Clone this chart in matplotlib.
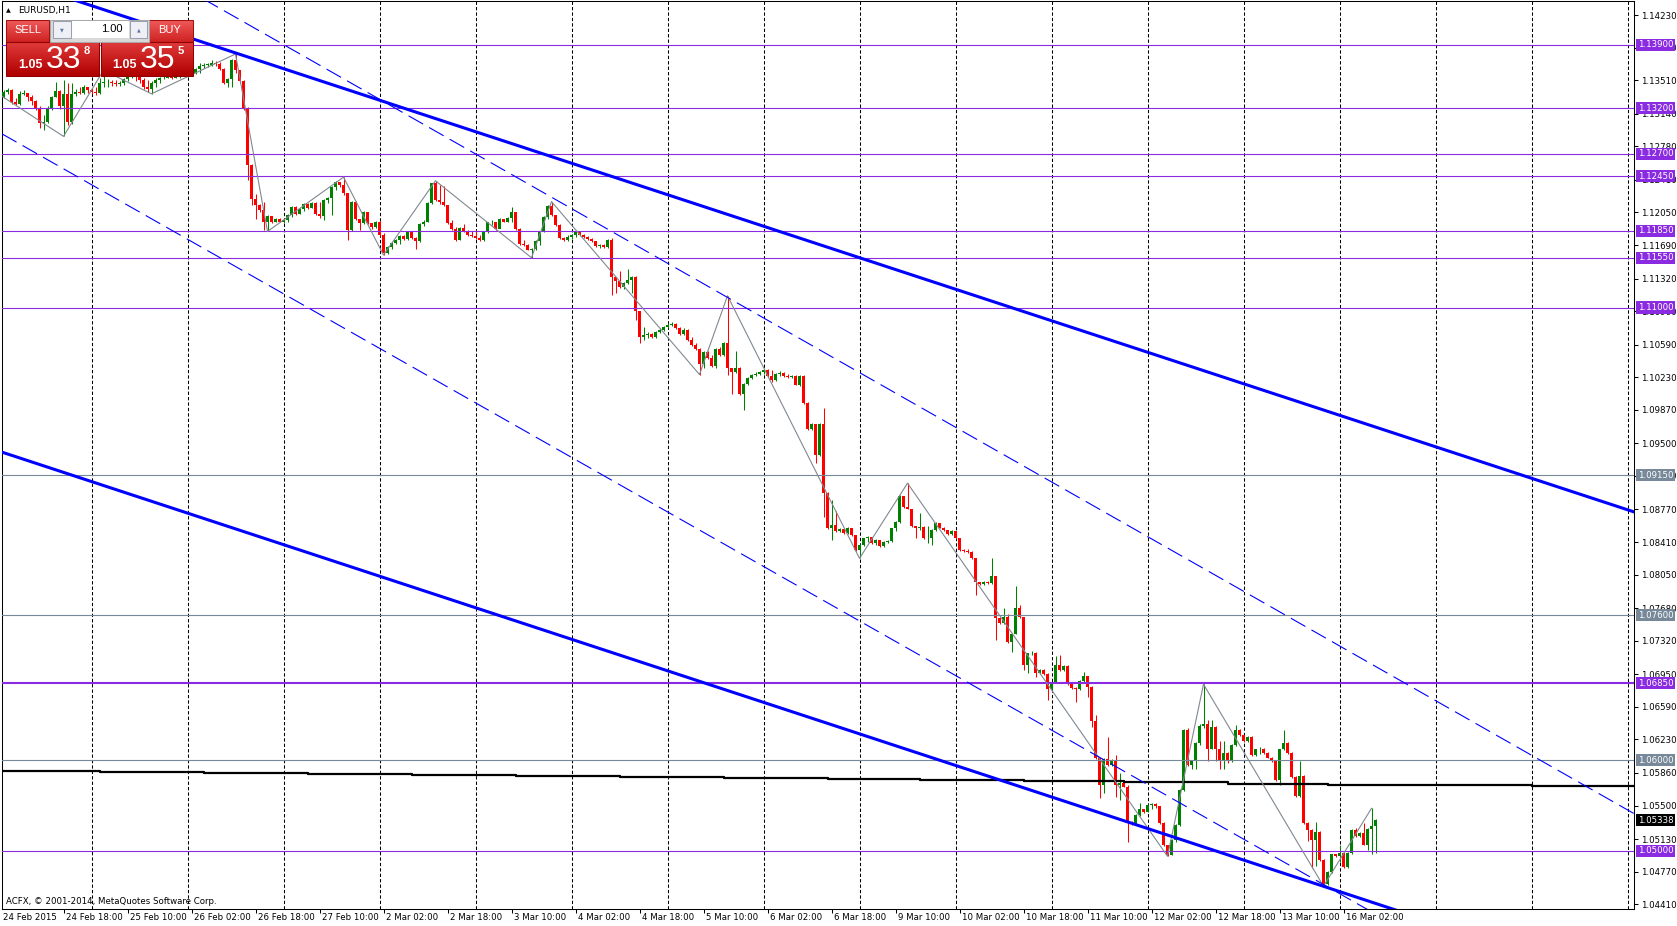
import numpy as np
import matplotlib
matplotlib.use("Agg")
import matplotlib.pyplot as plt
from matplotlib.patches import Rectangle
from matplotlib.colors import LinearSegmentedColormap

plt.rcParams['font.family'] = ['DejaVu Sans']
plt.rcParams['lines.scale_dashes'] = False

# EURUSD H1, bar 1 = 24 Feb 2015 01:00 (bar 24 = 25 Feb 00:00)
first_open = 1.1333
closes = [
    1.1332, 1.1338, 1.1340, 1.1327, 1.1325, 1.1336, 1.1337, 1.1332, 1.1328, 1.1320,
    1.1304, 1.1305, 1.1320, 1.1333, 1.1339, 1.1322, 1.1336, 1.1305, 1.1336, 1.1338,
    1.1337, 1.1343, 1.1340, 1.1338, 1.1337, 1.1348, 1.1349, 1.1349, 1.1348, 1.1347,
    1.1348, 1.1352, 1.1355, 1.1357, 1.1355, 1.1351, 1.1344, 1.1341, 1.1348, 1.1351,
    1.1353, 1.1354, 1.1355, 1.1354, 1.1356, 1.1357, 1.1358, 1.1359, 1.1359, 1.1363,
    1.1367, 1.1368, 1.1368, 1.1370, 1.1369, 1.1363, 1.1348, 1.1352, 1.1373, 1.1362,
    1.1350, 1.1320, 1.1257, 1.1220, 1.1213, 1.1208, 1.1194, 1.1201, 1.1195, 1.1198,
    1.1195, 1.1197, 1.1202, 1.1211, 1.1203, 1.1209, 1.1214, 1.1210, 1.1215, 1.1203,
    1.1201, 1.1219, 1.1221, 1.1233, 1.1239, 1.1235, 1.1226, 1.1186, 1.1217, 1.1198,
    1.1193, 1.1206, 1.1193, 1.1189, 1.1195, 1.1180, 1.1160, 1.1167, 1.1171, 1.1175,
    1.1179, 1.1176, 1.1183, 1.1177, 1.1173, 1.1192, 1.1195, 1.1215, 1.1237, 1.1219,
    1.1216, 1.1213, 1.1193, 1.1187, 1.1175, 1.1188, 1.1184, 1.1180, 1.1179, 1.1177,
    1.1175, 1.1184, 1.1194, 1.1195, 1.1187, 1.1198, 1.1195, 1.1199, 1.1206, 1.1187,
    1.1170, 1.1169, 1.1164, 1.1165, 1.1174, 1.1184, 1.1200, 1.1212, 1.1202, 1.1191,
    1.1177, 1.1175, 1.1178, 1.1180, 1.1183, 1.1180, 1.1178, 1.1176, 1.1173, 1.1168,
    1.1169, 1.1167, 1.1175, 1.1134, 1.1129, 1.1123, 1.1127, 1.1130, 1.1134, 1.1096,
    1.1068, 1.1070, 1.1071, 1.1067, 1.1073, 1.1075, 1.1079, 1.1081, 1.1082, 1.1077,
    1.1071, 1.1075, 1.1064, 1.1059, 1.1054, 1.1038, 1.1051, 1.1044, 1.1035, 1.1054,
    1.1048, 1.1061, 1.1033, 1.1029, 1.1033, 1.1004, 1.1016, 1.1022, 1.1026, 1.1027,
    1.1029, 1.1031, 1.1024, 1.1020, 1.1027, 1.1028, 1.1024, 1.1023, 1.1024, 1.1015,
    1.1024, 1.0995, 1.0966, 1.0971, 1.0937, 1.0971, 1.0895, 1.0856, 1.0860, 1.0853,
    1.0855, 1.0851, 1.0856, 1.0849, 1.0832, 1.0838, 1.0845, 1.0847, 1.0840, 1.0843,
    1.0837, 1.0841, 1.0842, 1.0856, 1.0863, 1.0892, 1.0880, 1.0878, 1.0859, 1.0856,
    1.0858, 1.0845, 1.0846, 1.0854, 1.0862, 1.0857, 1.0854, 1.0850, 1.0853, 1.0845,
    1.0832, 1.0831, 1.0830, 1.0823, 1.0797, 1.0795, 1.0797, 1.0796, 1.0803, 1.0757,
    1.0752, 1.0758, 1.0731, 1.0740, 1.0768, 1.0758, 1.0705, 1.0718, 1.0719, 1.0696,
    1.0700, 1.0695, 1.0679, 1.0686, 1.0705, 1.0700, 1.0704, 1.0684, 1.0680, 1.0679,
    1.0688, 1.0693, 1.0681, 1.0643, 1.0602, 1.0573, 1.0601, 1.0595, 1.0600, 1.0573,
    1.0575, 1.0571, 1.0531, 1.0530, 1.0540, 1.0546, 1.0543, 1.0551, 1.0552, 1.0549,
    1.0531, 1.0506, 1.0495, 1.0512, 1.0529, 1.0567, 1.0634, 1.0595, 1.0599, 1.0619,
    1.0638, 1.0640, 1.0612, 1.0637, 1.0612, 1.0599, 1.0608, 1.0599, 1.0617, 1.0634,
    1.0628, 1.0621, 1.0626, 1.0606, 1.0612, 1.0613, 1.0608, 1.0603, 1.0599, 1.0578,
    1.0612, 1.0619, 1.0608, 1.0582, 1.0561, 1.0583, 1.0531, 1.0523, 1.0512, 1.0521,
    1.0490, 1.0463, 1.0477, 1.0496, 1.0494, 1.0498, 1.0482, 1.0498, 1.0523, 1.0516,
    1.0520, 1.0507, 1.0524, 1.0527, 1.0534,
]
highs = [
    1.1335, 1.1340, 1.1342, 1.1341, 1.1331, 1.1339, 1.1340, 1.1336, 1.1335, 1.1329,
    1.1322, 1.1313, 1.1322, 1.1334, 1.1349, 1.1340, 1.1351, 1.1348, 1.1348, 1.1341,
    1.1344, 1.1346, 1.1344, 1.1342, 1.1344, 1.1353, 1.1362, 1.1352, 1.1351, 1.1351,
    1.1350, 1.1354, 1.1357, 1.1359, 1.1359, 1.1356, 1.1354, 1.1351, 1.1350, 1.1353,
    1.1355, 1.1357, 1.1357, 1.1357, 1.1359, 1.1359, 1.1360, 1.1362, 1.1362, 1.1365,
    1.1370, 1.1370, 1.1370, 1.1373, 1.1372, 1.1371, 1.1364, 1.1354, 1.1375, 1.1380,
    1.1362, 1.1351, 1.1321, 1.1259, 1.1225, 1.1214, 1.1217, 1.1202, 1.1201, 1.1199,
    1.1199, 1.1198, 1.1203, 1.1212, 1.1212, 1.1210, 1.1215, 1.1215, 1.1216, 1.1216,
    1.1217, 1.1220, 1.1222, 1.1234, 1.1240, 1.1239, 1.1244, 1.1226, 1.1218, 1.1218,
    1.1198, 1.1207, 1.1206, 1.1193, 1.1196, 1.1196, 1.1182, 1.1168, 1.1172, 1.1176,
    1.1180, 1.1180, 1.1184, 1.1183, 1.1178, 1.1193, 1.1197, 1.1216, 1.1238, 1.1240,
    1.1235, 1.1234, 1.1213, 1.1197, 1.1189, 1.1189, 1.1192, 1.1186, 1.1184, 1.1186,
    1.1180, 1.1185, 1.1195, 1.1197, 1.1195, 1.1199, 1.1198, 1.1200, 1.1211, 1.1206,
    1.1188, 1.1175, 1.1170, 1.1166, 1.1175, 1.1185, 1.1201, 1.1213, 1.1217, 1.1202,
    1.1192, 1.1178, 1.1180, 1.1181, 1.1185, 1.1184, 1.1181, 1.1179, 1.1177, 1.1173,
    1.1170, 1.1170, 1.1176, 1.1177, 1.1134, 1.1140, 1.1128, 1.1143, 1.1135, 1.1135,
    1.1096, 1.1079, 1.1073, 1.1072, 1.1074, 1.1077, 1.1080, 1.1083, 1.1084, 1.1083,
    1.1079, 1.1077, 1.1076, 1.1068, 1.1061, 1.1055, 1.1052, 1.1052, 1.1048, 1.1055,
    1.1056, 1.1062, 1.1113, 1.1033, 1.1052, 1.1034, 1.1017, 1.1023, 1.1027, 1.1029,
    1.1030, 1.1032, 1.1032, 1.1031, 1.1028, 1.1030, 1.1029, 1.1027, 1.1026, 1.1025,
    1.1025, 1.1025, 1.0996, 1.0972, 1.0971, 1.0972, 1.0989, 1.0896, 1.0888, 1.0875,
    1.0857, 1.0855, 1.0858, 1.0856, 1.0849, 1.0839, 1.0846, 1.0848, 1.0846, 1.0844,
    1.0843, 1.0842, 1.0843, 1.0857, 1.0864, 1.0893, 1.0892, 1.0906, 1.0878, 1.0859,
    1.0873, 1.0859, 1.0859, 1.0855, 1.0863, 1.0862, 1.0858, 1.0854, 1.0854, 1.0853,
    1.0846, 1.0833, 1.0833, 1.0831, 1.0823, 1.0797, 1.0798, 1.0798, 1.0823, 1.0804,
    1.0758, 1.0768, 1.0762, 1.0741, 1.0793, 1.0772, 1.0758, 1.0719, 1.0721, 1.0720,
    1.0701, 1.0701, 1.0696, 1.0687, 1.0715, 1.0716, 1.0705, 1.0705, 1.0685, 1.0681,
    1.0689, 1.0697, 1.0693, 1.0682, 1.0650, 1.0602, 1.0602, 1.0626, 1.0601, 1.0606,
    1.0586, 1.0576, 1.0573, 1.0533, 1.0541, 1.0553, 1.0546, 1.0552, 1.0553, 1.0553,
    1.0550, 1.0532, 1.0507, 1.0513, 1.0530, 1.0568, 1.0635, 1.0636, 1.0600, 1.0620,
    1.0640, 1.0684, 1.0645, 1.0645, 1.0638, 1.0621, 1.0621, 1.0609, 1.0618, 1.0639,
    1.0635, 1.0628, 1.0627, 1.0627, 1.0613, 1.0615, 1.0614, 1.0609, 1.0604, 1.0600,
    1.0613, 1.0634, 1.0620, 1.0609, 1.0583, 1.0599, 1.0584, 1.0532, 1.0524, 1.0532,
    1.0522, 1.0491, 1.0478, 1.0497, 1.0497, 1.0507, 1.0499, 1.0499, 1.0524, 1.0525,
    1.0521, 1.0531, 1.0525, 1.0547, 1.0535,
]
lows = [
    1.1330, 1.1331, 1.1336, 1.1325, 1.1324, 1.1324, 1.1335, 1.1328, 1.1324, 1.1318,
    1.1298, 1.1296, 1.1304, 1.1318, 1.1332, 1.1319, 1.1289, 1.1302, 1.1303, 1.1334,
    1.1336, 1.1336, 1.1337, 1.1336, 1.1335, 1.1336, 1.1344, 1.1343, 1.1345, 1.1345,
    1.1345, 1.1346, 1.1350, 1.1353, 1.1350, 1.1348, 1.1341, 1.1338, 1.1336, 1.1343,
    1.1348, 1.1352, 1.1353, 1.1352, 1.1353, 1.1354, 1.1356, 1.1356, 1.1356, 1.1358,
    1.1359, 1.1365, 1.1366, 1.1367, 1.1367, 1.1362, 1.1347, 1.1343, 1.1344, 1.1359,
    1.1348, 1.1318, 1.1241, 1.1213, 1.1198, 1.1206, 1.1186, 1.1184, 1.1193, 1.1194,
    1.1194, 1.1193, 1.1195, 1.1200, 1.1202, 1.1203, 1.1207, 1.1209, 1.1210, 1.1202,
    1.1199, 1.1197, 1.1215, 1.1202, 1.1230, 1.1233, 1.1224, 1.1175, 1.1185, 1.1197,
    1.1186, 1.1192, 1.1192, 1.1187, 1.1188, 1.1179, 1.1158, 1.1159, 1.1165, 1.1170,
    1.1170, 1.1175, 1.1175, 1.1176, 1.1165, 1.1172, 1.1190, 1.1195, 1.1214, 1.1218,
    1.1214, 1.1212, 1.1192, 1.1186, 1.1174, 1.1175, 1.1183, 1.1179, 1.1178, 1.1176,
    1.1174, 1.1174, 1.1182, 1.1191, 1.1186, 1.1188, 1.1194, 1.1194, 1.1195, 1.1186,
    1.1169, 1.1168, 1.1163, 1.1155, 1.1163, 1.1169, 1.1183, 1.1198, 1.1201, 1.1190,
    1.1176, 1.1174, 1.1174, 1.1176, 1.1178, 1.1179, 1.1177, 1.1175, 1.1172, 1.1167,
    1.1166, 1.1166, 1.1166, 1.1114, 1.1116, 1.1122, 1.1121, 1.1126, 1.1116, 1.1086,
    1.1061, 1.1064, 1.1066, 1.1066, 1.1066, 1.1072, 1.1074, 1.1077, 1.1080, 1.1076,
    1.1070, 1.1070, 1.1063, 1.1058, 1.1053, 1.1026, 1.1033, 1.1043, 1.1034, 1.1033,
    1.1047, 1.1047, 1.1026, 1.1005, 1.1028, 1.1003, 1.0987, 1.1015, 1.1021, 1.1024,
    1.1026, 1.1027, 1.1023, 1.1018, 1.1019, 1.1024, 1.1023, 1.1022, 1.1022, 1.1014,
    1.1013, 1.0994, 1.0965, 1.0965, 1.0928, 1.0936, 1.0869, 1.0855, 1.0843, 1.0852,
    1.0852, 1.0850, 1.0850, 1.0848, 1.0831, 1.0823, 1.0837, 1.0841, 1.0839, 1.0838,
    1.0836, 1.0836, 1.0840, 1.0841, 1.0853, 1.0862, 1.0879, 1.0877, 1.0858, 1.0845,
    1.0854, 1.0844, 1.0840, 1.0838, 1.0853, 1.0856, 1.0853, 1.0849, 1.0849, 1.0844,
    1.0831, 1.0830, 1.0829, 1.0822, 1.0783, 1.0794, 1.0794, 1.0795, 1.0795, 1.0733,
    1.0751, 1.0751, 1.0730, 1.0720, 1.0739, 1.0757, 1.0700, 1.0696, 1.0716, 1.0692,
    1.0695, 1.0694, 1.0667, 1.0678, 1.0685, 1.0699, 1.0699, 1.0683, 1.0679, 1.0664,
    1.0678, 1.0687, 1.0670, 1.0637, 1.0601, 1.0558, 1.0564, 1.0594, 1.0594, 1.0560,
    1.0556, 1.0570, 1.0510, 1.0529, 1.0529, 1.0539, 1.0542, 1.0543, 1.0546, 1.0547,
    1.0530, 1.0505, 1.0494, 1.0495, 1.0510, 1.0528, 1.0566, 1.0594, 1.0590, 1.0590,
    1.0617, 1.0636, 1.0599, 1.0612, 1.0599, 1.0590, 1.0590, 1.0597, 1.0598, 1.0616,
    1.0627, 1.0620, 1.0620, 1.0605, 1.0605, 1.0607, 1.0607, 1.0602, 1.0598, 1.0577,
    1.0573, 1.0611, 1.0607, 1.0581, 1.0560, 1.0560, 1.0530, 1.0511, 1.0481, 1.0483,
    1.0489, 1.0461, 1.0462, 1.0476, 1.0493, 1.0488, 1.0481, 1.0481, 1.0497, 1.0515,
    1.0515, 1.0506, 1.0501, 1.0497, 1.0498,
]

# zigzag turning points
zz_bars = [1, 17, 27, 39, 60, 68, 87, 97, 110, 134, 139, 176, 183, 216, 228, 293, 302, 332, 344]
zz_prices = [1.1335, 1.1289, 1.1362, 1.1336, 1.1380, 1.1184, 1.1244, 1.1158, 1.1240, 1.1155,
             1.1217, 1.1026, 1.1113, 1.0823, 1.0906, 1.0494, 1.0684, 1.0461, 1.0547]

# channel lines, two anchors each (bar, price)
thick_lines = [((22.25, 1.14359), (409.5, 1.08745)), ((1.0, 1.09412), (334.25, 1.04576))]
dash_lines = [((53.9, 1.14359), (409.25, 1.05421)), ((1.1, 1.12931), (334.4, 1.04568))]

purple_levels = [1.13900, 1.13200, 1.12700, 1.12450, 1.11850, 1.11550, 1.11000, 1.06850, 1.05000]
gray_levels = [1.09150, 1.07600, 1.06000]
bid = 1.05338

# slow moving average (stepped)
ma_bars = [1, 26, 52, 78, 104, 130, 156, 182, 208, 231, 257, 282, 308, 333, 358, 384, 410]
ma_vals = [1.0588, 1.0587, 1.0586, 1.0585, 1.0584, 1.0583, 1.0582, 1.0580, 1.0579, 1.0578,
           1.0577, 1.0576, 1.0574, 1.0573, 1.0573, 1.0572, 1.0572]

ytick_vals = [1.14230, 1.13870, 1.13510, 1.13140, 1.12780, 1.12410, 1.12050, 1.11690, 1.11320,
              1.10960, 1.10590, 1.10230, 1.09870, 1.09500, 1.09140, 1.08770, 1.08410, 1.08050,
              1.07680, 1.07320, 1.06950, 1.06590, 1.06230, 1.05860, 1.05500, 1.05130, 1.04770,
              1.04410]
time_bars = [18, 34, 50, 66, 82, 98, 114, 130, 146, 162, 178, 194, 210, 226, 242, 258, 274,
             290, 306, 322, 338]
time_labels = ['24 Feb 18:00', '25 Feb 10:00', '26 Feb 02:00', '26 Feb 18:00', '27 Feb 10:00',
               '2 Mar 02:00', '2 Mar 18:00', '3 Mar 10:00', '4 Mar 02:00', '4 Mar 18:00',
               '5 Mar 10:00', '6 Mar 02:00', '6 Mar 18:00', '9 Mar 10:00', '10 Mar 02:00',
               '10 Mar 18:00', '11 Mar 10:00', '12 Mar 02:00', '12 Mar 18:00', '13 Mar 10:00',
               '16 Mar 02:00']

W, H = 1677, 926
fig = plt.figure(figsize=(W / 100, H / 100), dpi=100)
fig.patch.set_facecolor('white')
ax = fig.add_axes([2 / W, 17 / H, 1632 / W, 908 / H])
ax.set_xlim(1.625, 409.625)
ax.set_ylim(1.04358, 1.14385)
x0, x1 = ax.get_xlim()

# vertical grid, one per day
for b in range(24, 410, 24):
    ax.axvline(b, color='black', lw=0.75, dashes=(2.4, 1.5), zorder=1)

# candles
bars = np.arange(1, len(closes) + 1)
c = np.array(closes)
o = np.r_[first_open, c[:-1]]
col = np.where(c >= o, '#008000', '#ff0000')
ax.vlines(bars, lows, highs, colors=col, lw=0.75, zorder=3)
ax.bar(bars, np.maximum(np.abs(c - o), 0.00004), bottom=np.minimum(o, c), width=0.75,
       color=col, lw=0, zorder=3)

# levels
for p in purple_levels:
    ax.axhline(p, color='#8a2be2', lw=1.5 if p == 1.06850 else 0.8, zorder=4)
for p in gray_levels:
    ax.axhline(p, color='#778899', lw=0.8, zorder=4)

ax.step(ma_bars, ma_vals, where='post', color='black', lw=1.6, zorder=4)
ax.plot(zz_bars, zz_prices, color='#808890', lw=0.8, zorder=5)

for (b1, p1), (b2, p2) in thick_lines:
    k = (p2 - p1) / (b2 - b1)
    ax.plot([x0, x1], [p1 + k * (x0 - b1), p1 + k * (x1 - b1)], color='#0000ff', lw=2.2, zorder=6)
for (b1, p1), (b2, p2) in dash_lines:
    k = (p2 - p1) / (b2 - b1)
    ax.plot([x0, x1], [p1 + k * (x0 - b1), p1 + k * (x1 - b1)], color='#0000ff', lw=0.8,
            dashes=(12, 5), zorder=6)

# axes look
for s in ax.spines.values():
    s.set_linewidth(0.75)
    s.set_color('black')
ax.yaxis.tick_right()
ax.set_yticks(ytick_vals)
ax.set_yticklabels([f'{v:.5f}' for v in ytick_vals])
ax.tick_params(axis='y', length=3, width=0.75, pad=2, labelsize=6.2, direction='out')
ax.set_xticks([b - 0.8 for b in time_bars])
ax.set_xticklabels([])
ax.tick_params(axis='x', length=3, width=0.75, direction='out')
xtr = ax.get_xaxis_transform()
ax.text(1 / 1632, -9 / 908, '24 Feb 2015', transform=ax.transAxes, ha='left', va='center', fontsize=6.2)
for b, s in zip(time_bars, time_labels):
    ax.text(b - 0.4, -9 / 908, s, transform=xtr, ha='left', va='center', fontsize=6.2)

# price tags on the right scale
ytr = ax.get_yaxis_transform()
def tag(p, fc):
    ax.text(1 + 4 / 1632, p, f'{p:.5f}', transform=ytr, ha='left', va='center', fontsize=6.2,
            color='white', zorder=10, clip_on=False,
            bbox=dict(boxstyle='square,pad=0.18', fc=fc, ec='none'))
for p in purple_levels:
    tag(p, '#8a2be2')
for p in gray_levels:
    tag(p, '#778899')
tag(bid, 'black')

# overlay in pixel units: title, trade panel, copyright
ov = fig.add_axes([0, 0, 1, 1], zorder=20)
ov.axis('off')

def grad_box(xa, ya, xb, yb, c_top, c_bot, edge):
    cmap = LinearSegmentedColormap.from_list('g', [c_top, c_bot])
    ov.imshow(np.linspace(0, 1, 40).reshape(-1, 1), cmap=cmap, extent=(xa, xb, yb, ya),
              aspect='auto', interpolation='bilinear')
    ov.add_patch(Rectangle((xa, ya), xb - xa, yb - ya, fill=False, ec=edge, lw=0.75))

grad_box(6, 20, 49, 42, '#ef5a5a', '#cf2222', '#a01010')
grad_box(149, 20, 193, 42, '#ef5a5a', '#cf2222', '#a01010')
grad_box(6, 42, 99, 76, '#e03a3a', '#b00000', '#900000')
grad_box(101, 42, 193, 76, '#e03a3a', '#b00000', '#900000')
ov.add_patch(Rectangle((50, 20), 99, 22, fc='#d9d9d9', ec='#a8a8a8', lw=0.75))
ov.add_patch(Rectangle((72, 21), 57, 17, fc='white', ec='none'))
ov.add_patch(Rectangle((53, 21), 18, 17, fc='#eef0f6', ec='#9aa0b4', lw=0.75))
ov.add_patch(Rectangle((130, 21), 17, 17, fc='#eef0f6', ec='#9aa0b4', lw=0.75))
ov.text(62, 29.5, '▼', fontsize=3.5, color='#5a78a8', ha='center', va='center')
ov.text(138.5, 29.5, '▲', fontsize=3.5, color='#5a78a8', ha='center', va='center')
ov.text(123, 29.5, '1.00', fontsize=8, ha='right', va='center', family='Liberation Sans')
ov.text(27.5, 30, 'SELL', fontsize=8, color='white', ha='center', va='center', family='Liberation Sans')
ov.text(170, 30, 'BUY', fontsize=8, color='white', ha='center', va='center', family='Liberation Sans')
for xs, big, small in [(31, '33', '8'), (125, '35', '5')]:
    ov.text(xs, 65.5, '1.05', fontsize=9, color='white', ha='center', va='center',
            family='Liberation Sans', weight='bold')
    ov.text(xs + 33, 60, big, fontsize=23, color='white', ha='center', va='center',
            family='Liberation Sans')
    ov.text(xs + 56, 51, small, fontsize=8, color='white', ha='center', va='center',
            family='Liberation Sans', weight='bold')

ov.text(6, 11, '▲', fontsize=4.5, ha='left', va='center')
ov.text(18, 11, 'EURUSD,H1', fontsize=6.5, ha='left', va='center')
ov.text(6, 901, 'ACFX, © 2001-2014, MetaQuotes Software Corp.', fontsize=6.2, ha='left', va='center')
ov.set_xlim(0, W)
ov.set_ylim(H, 0)

fig.savefig('out.png', dpi=100, facecolor='white')
